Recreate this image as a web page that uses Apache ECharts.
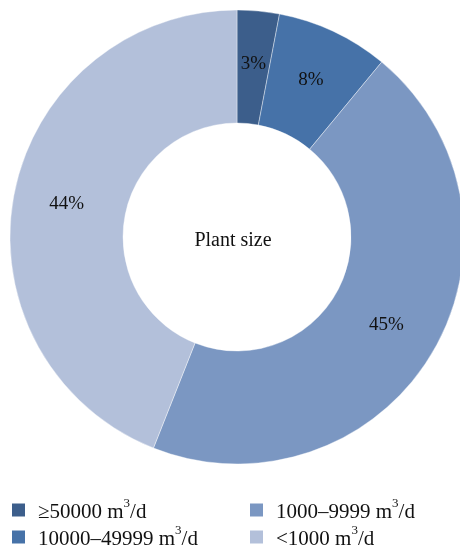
<!DOCTYPE html>
<html><head><meta charset="utf-8">
<script src="https://cdn.jsdelivr.net/npm/echarts@6/dist/echarts.min.js"></script>
<style>html,body{margin:0;padding:0;background:#fff}#c{width:460px;height:550px}</style>
</head><body><div id="c"></div>
<script>
const categories = ['≥50000', '10000–49999', '1000–9999', '<1000'];
const values = [3, 8, 45, 44];
const colors = ['#3c5e8b', '#4672a8', '#7b97c2', '#b3c0da'];
const centerTitle = 'Plant size';

const chart = echarts.init(document.getElementById('c'));
const font = '"Liberation Serif", "DejaVu Serif", serif';
const LH = 26;
const legendText = {
  fontFamily: font, fontSize: 21, color: '#111',
  rich: {
    f: { fontFamily: font, fontSize: 21, color: '#111', lineHeight: LH, verticalAlign: 'bottom', padding: [0, 0, 0, 7] },
    a: { fontFamily: font, fontSize: 21, color: '#111', lineHeight: LH, verticalAlign: 'bottom' },
    s: { fontFamily: font, fontSize: 13, color: '#111', lineHeight: LH, verticalAlign: 'top' }
  }
};
const fmt = n => '{f|' + n + ' m}{s|3}{a|/d}';
const legendBase = { orient: 'vertical', top: 497, height: 70, itemWidth: 15, itemHeight: 15,
  itemGap: 1, icon: 'rect', formatter: fmt, textStyle: legendText, selectedMode: false, padding: 0 };
chart.setOption({
  animation: false,
  color: colors,
  legend: [
    Object.assign({ data: categories.slice(0, 2), left: 10 }, legendBase),
    Object.assign({ data: categories.slice(2), left: 248 }, legendBase)
  ],
  graphic: [{
    type: 'text', x: 233, y: 241,
    style: { text: centerTitle, textAlign: 'center', textVerticalAlign: 'middle',
      font: '20px ' + font, fill: '#111' }
  }],
  series: [{
    type: 'pie',
    center: [237, 237],
    radius: [114, 227],
    startAngle: 90,
    clockwise: true,
    avoidLabelOverlap: false,
    itemStyle: { borderColor: '#fff', borderWidth: 0.4 },
    label: { show: true, position: 'inside', formatter: '{c}%', fontFamily: font, fontSize: 19, color: '#111' },
    labelLine: { show: false },
    emphasis: { disabled: true },
    data: categories.map((n, i) => ({ name: n, value: values[i] }))
  }]
});
</script></body></html>
